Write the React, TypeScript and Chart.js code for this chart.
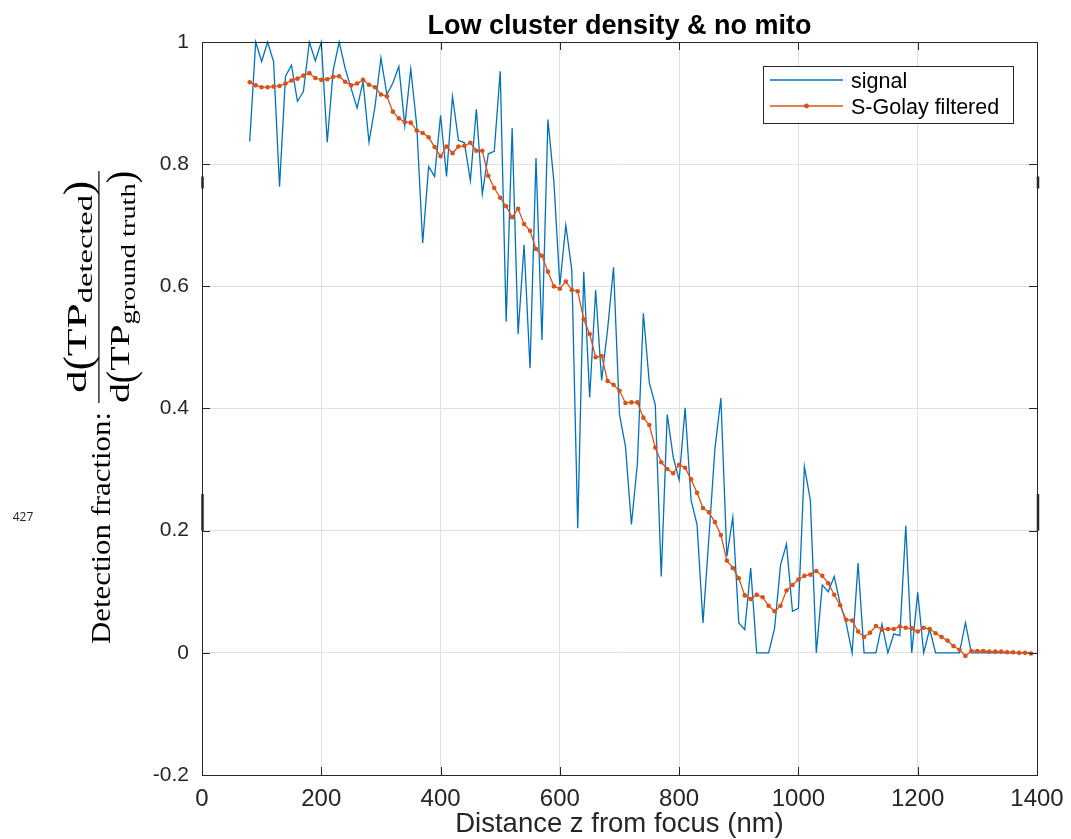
import React, { useEffect, useRef } from "react";
import { Chart, registerables } from "chart.js";

Chart.register(...registerables);

// ---------- data ----------
const zValues: number[] = [
  80, 90, 100, 110, 120, 130, 140, 150, 160, 170,
  180, 190, 200, 210, 220, 230, 240, 250, 260, 270,
  280, 290, 300, 310, 320, 330, 340, 350, 360, 370,
  380, 390, 400, 410, 420, 430, 440, 450, 460, 470,
  480, 490, 500, 510, 520, 530, 540, 550, 560, 570,
  580, 590, 600, 610, 620, 630, 640, 650, 660, 670,
  680, 690, 700, 710, 720, 730, 740, 750, 760, 770,
  780, 790, 800, 810, 820, 830, 840, 850, 860, 870,
  880, 890, 900, 910, 920, 930, 940, 950, 960, 970,
  980, 990, 1000, 1010, 1020, 1030, 1040, 1050, 1060, 1070,
  1080, 1090, 1100, 1110, 1120, 1130, 1140, 1150, 1160, 1170,
  1180, 1190, 1200, 1210, 1220, 1230, 1240, 1250, 1260, 1270,
  1280, 1290, 1300, 1310, 1320, 1330, 1340, 1350, 1360, 1370,
  1380, 1390,
];

const signalValues: number[] = [
  0.837, 1.0, 0.968, 1.0, 0.968, 0.763, 0.944, 0.962, 0.903, 0.919,
  1.0, 0.969, 1.0, 0.836, 0.954, 1.0, 0.957, 0.924, 0.892, 0.935,
  0.836, 0.894, 0.974, 0.914, 0.933, 0.96, 0.863, 0.956, 0.864, 0.671,
  0.796, 0.78, 0.88, 0.78, 0.911, 0.839, 0.835, 0.773, 0.89, 0.751,
  0.817, 0.821, 0.952, 0.542, 0.859, 0.522, 0.668, 0.466, 0.81, 0.512,
  0.873, 0.771, 0.602, 0.7, 0.627, 0.204, 0.624, 0.418, 0.594, 0.446,
  0.529, 0.631, 0.39, 0.338, 0.21, 0.31, 0.556, 0.442, 0.406, 0.125,
  0.39, 0.321, 0.283, 0.401, 0.25, 0.21, 0.049, 0.19, 0.334, 0.417,
  0.158, 0.222, 0.049, 0.038, 0.139, 0, 0, 0, 0.04, 0.144,
  0.178, 0.068, 0.073, 0.305, 0.25, 0, 0.111, 0.1, 0.125, 0.08,
  0.049, 0, 0.147, 0, 0, 0, 0.047, 0, 0.031, 0.028,
  0.208, 0, 0.099, 0, 0.039, 0, 0, 0, 0, 0,
  0.049, 0, 0, 0, 0, 0, 0, 0, 0, 0,
  0, 0,
];

const filteredValues: number[] = [
  0.934, 0.929, 0.926, 0.926, 0.927, 0.928, 0.932, 0.937, 0.94, 0.945,
  0.949, 0.941, 0.938, 0.939, 0.943, 0.944, 0.935, 0.929, 0.932, 0.938,
  0.93, 0.926, 0.914, 0.911, 0.886, 0.875, 0.869, 0.868, 0.855, 0.851,
  0.844, 0.828, 0.813, 0.829, 0.818, 0.829, 0.83, 0.835, 0.822, 0.822,
  0.781, 0.761, 0.745, 0.731, 0.713, 0.727, 0.702, 0.691, 0.661, 0.65,
  0.624, 0.6, 0.596, 0.608, 0.594, 0.592, 0.546, 0.522, 0.484, 0.486,
  0.445, 0.439, 0.429, 0.409, 0.41, 0.41, 0.385, 0.373, 0.336, 0.312,
  0.301, 0.294, 0.308, 0.303, 0.284, 0.262, 0.237, 0.23, 0.214, 0.193,
  0.151, 0.139, 0.122, 0.094, 0.088, 0.095, 0.091, 0.077, 0.068, 0.077,
  0.102, 0.111, 0.12, 0.126, 0.128, 0.134, 0.126, 0.114, 0.095, 0.078,
  0.054, 0.053, 0.035, 0.026, 0.033, 0.044, 0.038, 0.039, 0.039, 0.043,
  0.041, 0.04, 0.035, 0.041, 0.039, 0.032, 0.026, 0.02, 0.011, 0.005,
  -0.005, 0.003, 0.003, 0.003, 0.002, 0.002, 0.002, 0.001, 0.001, 0.0,
  0.0, -0.001,
];

const seriesNames: string[] = ["signal", "S-Golay filtered"];
const chartTitle = "Low cluster density & no mito";
const xAxisTitle = "Distance z from focus (nm)";
const yLabelPrefix = "Detection fraction:";
const xTickValues: number[] = [0, 200, 400, 600, 800, 1000, 1200, 1400];
const yTickValues: number[] = [-0.2, 0, 0.2, 0.4, 0.6, 0.8, 1];
const sideNote = "427";

// ---------- style ----------
const W = 1071;
const H = 839;
const BLUE = "#0072BD";
const ORANGE = "#D95319";
const AXIS = "#262626";
const GRID = "#dfdfdf";
const SANS = '"Liberation Sans", Arial, Helvetica, sans-serif';
const SERIF = '"Liberation Serif", "Times New Roman", serif';

type Part = { t: string; size: number; dy: number; sy?: number };

function drawParts(ctx: CanvasRenderingContext2D, parts: Part[], center: number, baseline: number, target: number) {
  let total = 0;
  const widths: number[] = [];
  for (const p of parts) {
    ctx.font = `${p.size}px ${SERIF}`;
    const w = ctx.measureText(p.t).width;
    widths.push(w);
    total += w;
  }
  const s = target / total;
  ctx.save();
  ctx.translate(center - target / 2, baseline);
  ctx.scale(s, 1);
  let x = 0;
  parts.forEach((p, i) => {
    ctx.font = `${p.size}px ${SERIF}`;
    ctx.save();
    ctx.translate(x, p.dy);
    ctx.scale(1, p.sy ?? 1);
    ctx.fillText(p.t, 0, 0);
    ctx.restore();
    x += widths[i];
  });
  ctx.restore();
}

const decorPlugin = {
  id: "decor",
  afterDraw(chart: any) {
    const ctx: CanvasRenderingContext2D = chart.ctx;
    const a = chart.chartArea;
    const xs = chart.scales.x;
    const ys = chart.scales.y;
    ctx.save();

    // axes box
    ctx.strokeStyle = AXIS;
    ctx.lineWidth = 1;
    ctx.strokeRect(Math.round(a.left) + 0.5, Math.round(a.top) + 0.5, Math.round(a.right - a.left), Math.round(a.bottom - a.top));

    // inward tick marks
    const tl = 8;
    ctx.beginPath();
    for (const v of xTickValues) {
      const px = Math.round(xs.getPixelForValue(v)) + 0.5;
      ctx.moveTo(px, a.bottom);
      ctx.lineTo(px, a.bottom - tl);
      ctx.moveTo(px, a.top);
      ctx.lineTo(px, a.top + tl);
    }
    for (const v of yTickValues) {
      const py = Math.round(ys.getPixelForValue(v)) + 0.5;
      ctx.moveTo(a.left, py);
      ctx.lineTo(a.left + tl, py);
      ctx.moveTo(a.right, py);
      ctx.lineTo(a.right - tl, py);
    }
    ctx.stroke();

    // small dark marks on the side axes
    ctx.lineWidth = 2.5;
    ctx.beginPath();
    for (const xx of [a.left + 0.5, a.right + 1]) {
      ctx.moveTo(xx, ys.getPixelForValue(0.78));
      ctx.lineTo(xx, ys.getPixelForValue(0.76));
      ctx.moveTo(xx, ys.getPixelForValue(0.26));
      ctx.lineTo(xx, ys.getPixelForValue(0.2));
    }
    ctx.stroke();

    // title
    ctx.fillStyle = "#000";
    ctx.font = `bold 27px ${SANS}`;
    ctx.textAlign = "center";
    ctx.textBaseline = "alphabetic";
    ctx.fillText(chartTitle, (a.left + a.right) / 2, 34);

    // x axis title
    ctx.fillStyle = AXIS;
    ctx.font = `27.5px ${SANS}`;
    ctx.fillText(xAxisTitle, (a.left + a.right) / 2, 832);

    // side note
    ctx.font = `12px "Open Sans", ${SANS}`;
    ctx.fillStyle = "#222";
    ctx.fillText(sideNote, 23, 521);

    // y label (rotated)
    ctx.save();
    ctx.rotate(-Math.PI / 2);
    ctx.fillStyle = "#000";
    ctx.textAlign = "left";
    drawParts(ctx, [{ t: yLabelPrefix, size: 28, dy: 0 }], -528, 110, 232);
    // fraction bar
    ctx.fillRect(-403, 98.3, 232, 1.2);
    // numerator
    drawParts(
      ctx,
      [
        { t: "d", size: 28, dy: 0 },
        { t: "(", size: 26, dy: 5, sy: 1.5 },
        { t: "TP", size: 28, dy: 0 },
        { t: "detected", size: 20, dy: 6 },
        { t: ")", size: 26, dy: 5, sy: 1.5 },
      ],
      -287,
      86,
      212
    );
    // denominator
    drawParts(
      ctx,
      [
        { t: "d", size: 28, dy: 0 },
        { t: "(", size: 26, dy: 5, sy: 1.5 },
        { t: "TP", size: 28, dy: 0 },
        { t: "ground truth", size: 20, dy: 6 },
        { t: ")", size: 26, dy: 5, sy: 1.5 },
      ],
      -287,
      129,
      232
    );
    ctx.restore();

    // legend
    const lx = 763.5, ly = 66.5, lw = 250, lh = 57;
    ctx.fillStyle = "#fff";
    ctx.fillRect(lx, ly, lw, lh);
    ctx.strokeStyle = AXIS;
    ctx.lineWidth = 1;
    ctx.strokeRect(lx, ly, lw, lh);
    ctx.lineWidth = 1.3;
    ctx.strokeStyle = BLUE;
    ctx.beginPath();
    ctx.moveTo(770, 80);
    ctx.lineTo(843, 80);
    ctx.stroke();
    ctx.strokeStyle = ORANGE;
    ctx.beginPath();
    ctx.moveTo(770, 106);
    ctx.lineTo(843, 106);
    ctx.stroke();
    ctx.fillStyle = ORANGE;
    ctx.beginPath();
    ctx.arc(806.5, 106, 2.4, 0, Math.PI * 2);
    ctx.fill();
    ctx.fillStyle = "#000";
    ctx.font = `21.5px ${SANS}`;
    ctx.textAlign = "left";
    ctx.fillText(seriesNames[0], 851, 87.5);
    ctx.fillText(seriesNames[1], 851, 113.5);

    ctx.restore();
  },
};

export default function App() {
  const canvasRef = useRef<HTMLCanvasElement | null>(null);

  useEffect(() => {
    const canvas = canvasRef.current;
    if (!canvas) return;
    const signalPts = zValues.map((z, i) => ({ x: z, y: signalValues[i] }));
    const filtPts = zValues.map((z, i) => ({ x: z, y: filteredValues[i] }));
    const chart = new Chart(canvas, {
      type: "line",
      data: {
        datasets: [
          {
            label: seriesNames[0],
            data: signalPts,
            borderColor: BLUE,
            backgroundColor: BLUE,
            borderWidth: 1.3,
            pointRadius: 0,
            tension: 0,
            order: 2,
          },
          {
            label: seriesNames[1],
            data: filtPts,
            borderColor: ORANGE,
            backgroundColor: ORANGE,
            borderWidth: 1.3,
            pointRadius: 2.3,
            pointBorderWidth: 0,
            pointBackgroundColor: ORANGE,
            tension: 0,
            order: 1,
          },
        ],
      },
      options: {
        responsive: false,
        animation: false,
        devicePixelRatio: 1,
        clip: false,
        layout: { padding: { left: 0, right: 34, top: 42, bottom: 0 } },
        plugins: {
          legend: { display: false },
          title: { display: false },
          tooltip: { enabled: false },
        },
        scales: {
          x: {
            type: "linear",
            min: 0,
            max: 1400,
            afterFit: (s: any) => {
              s.height = 64;
              s.paddingLeft = 0;
              s.paddingRight = 0;
            },
            afterBuildTicks: (s: any) => {
              s.ticks = xTickValues.map((v) => ({ value: v }));
            },
            ticks: {
              padding: 10,
              color: AXIS,
              font: { family: SANS, size: 24 },
              maxRotation: 0,
              autoSkip: false,
              callback: (v: any) => String(v),
            },
            grid: { color: GRID, drawTicks: false, lineWidth: 1 },
            border: { display: false },
          },
          y: {
            type: "linear",
            min: -0.2,
            max: 1,
            afterFit: (s: any) => {
              s.width = 202;
              s.paddingTop = 0;
              s.paddingBottom = 0;
            },
            afterBuildTicks: (s: any) => {
              s.ticks = yTickValues.map((v) => ({ value: v }));
            },
            ticks: {
              padding: 13,
              color: AXIS,
              font: { family: SANS, size: 21 },
              autoSkip: false,
              callback: (v: any) => String(Number(Number(v).toFixed(1))),
            },
            grid: { color: GRID, drawTicks: false, lineWidth: 1 },
            border: { display: false },
          },
        },
      },
      plugins: [decorPlugin],
    });
    return () => chart.destroy();
  }, []);

  return (
    <div style={{ position: "absolute", left: 0, top: 0, width: W, height: H, background: "#fff" }}>
      <canvas ref={canvasRef} width={W} height={H} style={{ width: W, height: H, display: "block" }} />
    </div>
  );
}
